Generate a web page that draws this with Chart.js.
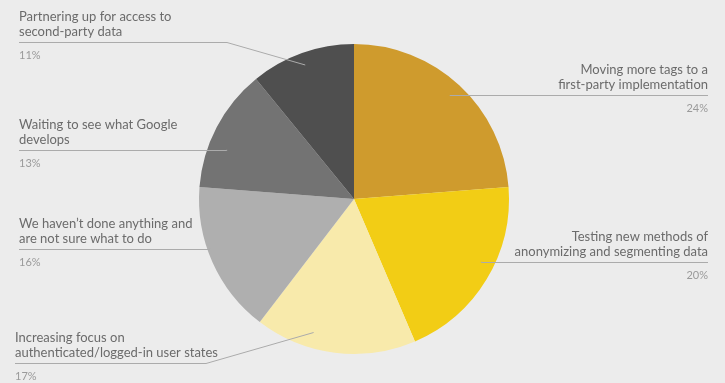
<!DOCTYPE html>
<html>
<head>
<meta charset="utf-8">
<script src="https://cdn.jsdelivr.net/npm/chart.js@4/dist/chart.umd.min.js"></script>
<style>
  html, body { margin: 0; padding: 0; background: #ececec; }
  canvas { display: block; }
</style>
</head>
<body>
<canvas id="pie" width="725" height="383"></canvas>
<script>
const answers = [
    ['Moving more tags to a', 'first-party implementation'],
    ['Testing new methods of', 'anonymizing and segmenting data'],
    ['Increasing focus on', 'authenticated/logged-in user states'],
    ['We haven\u2019t done anything and', 'are not sure what to do'],
    ['Waiting to see what Google', 'develops'],
    ['Partnering up for access to', 'second-party data']
];
const shares = [24, 20, 17, 16, 13, 11];
const sliceColors = ['#cf9b2d', '#f2cd15', '#f8eaab', '#afafaf', '#737373', '#4f4f4f'];

// where each leader line leaves its slice (t = fraction across the slice, r = fraction of radius)
// and where the label sits; elbowX turns a sloped line into the flat underline
const callouts = [
    { t: 0.50, r: 0.91, side: 'right', x: 708 },
    { t: 0.43, r: 0.915, side: 'right', x: 708 },
    { t: 0.66, r: 0.90, side: 'left', x: 15, lineY: 363.5, elbowX: 206 },
    { t: 0.59, r: 0.985, side: 'left', x: 19 },
    { t: 0.36, r: 0.88, side: 'left', x: 19 },
    { t: 0.49, r: 0.92, side: 'left', x: 19, lineY: 42.5, elbowX: 227 }
];

const calloutPlugin = {
    id: 'callouts',
    afterDatasetsDraw(chart) {
        const ctx = chart.ctx;
        const meta = chart.getDatasetMeta(0);
        ctx.save();
        meta.data.forEach((arc, i) => {
            const c = callouts[i];
            const a = arc.startAngle + (arc.endAngle - arc.startAngle) * c.t;
            const ax = arc.x + Math.cos(a) * arc.outerRadius * c.r;
            const ay = arc.y + Math.sin(a) * arc.outerRadius * c.r;
            const lineY = c.lineY !== undefined ? c.lineY : Math.round(ay) + 0.5;

            ctx.strokeStyle = '#ababab';
            ctx.lineWidth = 1;
            ctx.beginPath();
            ctx.moveTo(ax, ay);
            if (c.elbowX !== undefined) ctx.lineTo(c.elbowX, lineY);
            else ctx.lineTo(ax, lineY);
            ctx.lineTo(c.x, lineY);
            ctx.stroke();

            ctx.textAlign = c.side === 'right' ? 'right' : 'left';
            ctx.textBaseline = 'middle';
            ctx.fillStyle = '#6b6b6b';
            ctx.font = '13px Lato';
            ctx.fillText(answers[i][0], c.x, lineY - 26);
            ctx.fillText(answers[i][1], c.x, lineY - 11);
            ctx.fillStyle = '#9a9a9a';
            ctx.font = '11px Lato';
            ctx.fillText(shares[i] + '%', c.x, lineY + 12.5);
        });
        ctx.restore();
    }
};

new Chart(document.getElementById('pie'), {
    type: 'pie',
    data: {
        labels: answers.map(a => a.join(' ')),
        datasets: [{
            data: shares,
            backgroundColor: sliceColors,
            borderWidth: 0
        }]
    },
    options: {
        responsive: false,
        animation: false,
        layout: { padding: { left: 199, right: 216, top: 44, bottom: 29 } },
        plugins: {
            legend: { display: false },
            tooltip: { enabled: false }
        }
    },
    plugins: [calloutPlugin]
});
</script>
</body>
</html>
